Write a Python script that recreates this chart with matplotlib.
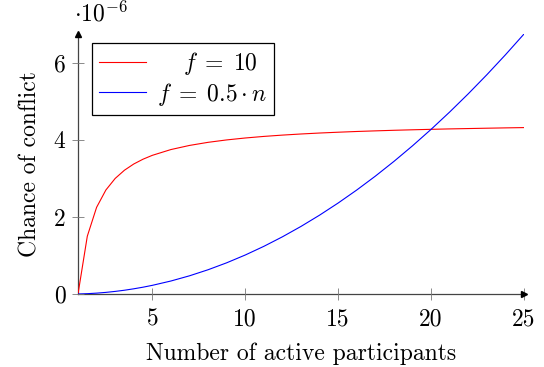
import matplotlib
matplotlib.use("Agg")
import matplotlib.pyplot as plt

plt.rcParams['font.family'] = 'serif'
plt.rcParams['font.serif'] = ['cmr10']
plt.rcParams['mathtext.fontset'] = 'cm'
plt.rcParams['axes.unicode_minus'] = False

# participants (sample points)
n = [1, 1.5, 2, 2.5, 3, 3.5, 4, 4.5, 5, 6, 7, 8, 9, 10, 11, 12, 13, 14, 15,
     16, 17, 18, 19, 20, 21, 22, 23, 24, 25]
# chance of conflict, in units of 1e-6
fixed_f = [0, 1.5, 2.25, 2.7, 3.0, 3.214, 3.375, 3.5, 3.6, 3.75, 3.857, 3.9375,
           4.0, 4.05, 4.091, 4.125, 4.154, 4.179, 4.2, 4.219, 4.235, 4.25,
           4.263, 4.275, 4.286, 4.295, 4.304, 4.3125, 4.32]
scaled_f = [0, 0.0084, 0.0225, 0.042, 0.0675, 0.098, 0.135, 0.177, 0.225,
            0.3375, 0.4725, 0.63, 0.81, 1.0125, 1.2375, 1.485, 1.755, 2.0475,
            2.3625, 2.7, 3.06, 3.4425, 3.8475, 4.275, 4.725, 5.1975, 5.6925,
            6.21, 6.75]
xticks = [5, 10, 15, 20, 25]
yticks = [0, 2, 4, 6]

fig = plt.figure(figsize=(5.44, 3.67), dpi=100)
ax = fig.add_axes([0.1434, 0.1989, 0.8199, 0.7085])

ax.plot(n, fixed_f, color='red', lw=0.8, label=r'$\quad\; f \;=\; 10$')
ax.plot(n, scaled_f, color='blue', lw=0.8, label=r'$f \;=\; 0.5 \cdot n$')

ax.set_xlim(1, 25)
ax.set_ylim(0, 6.75)

for s in ['top', 'right']:
    ax.spines[s].set_visible(False)
for s in ['left', 'bottom']:
    ax.spines[s].set_color('#444444')
    ax.spines[s].set_linewidth(0.9)
    ax.spines[s].set_zorder(0)

# arrow heads on axes
ax.plot(1, 0, '>', color='black', ms=5, transform=ax.transAxes, clip_on=False)
ax.plot(0, 1, '^', color='black', ms=5, transform=ax.transAxes, clip_on=False)

ax.set_xticks(xticks)
ax.set_yticks(yticks)
ax.set_xticklabels([str(t) for t in xticks])
ax.set_yticklabels([str(t) for t in yticks])
ax.tick_params(direction='inout', length=8, width=0.6, color='#777777',
               labelsize=17)
ax.tick_params(axis='x', pad=6)
ax.tick_params(axis='y', pad=5)

ax.text(-0.01, 1.03, r'$\cdot 10^{-6}$', transform=ax.transAxes,
        fontsize=17, ha='left', va='bottom')

ax.set_xlabel('Number of active participants', fontsize=17, labelpad=9)
ax.set_ylabel('Chance of conflict', fontsize=17, labelpad=9)

leg = ax.legend(loc='upper left', bbox_to_anchor=(0.031, 0.965),
                borderaxespad=0, fontsize=17, fancybox=False,
                edgecolor='black', framealpha=1, handlelength=2.0,
                handletextpad=0.45, labelspacing=0.15, borderpad=0.3)
leg.get_frame().set_linewidth(0.9)

fig.savefig('out.png', dpi=100)
